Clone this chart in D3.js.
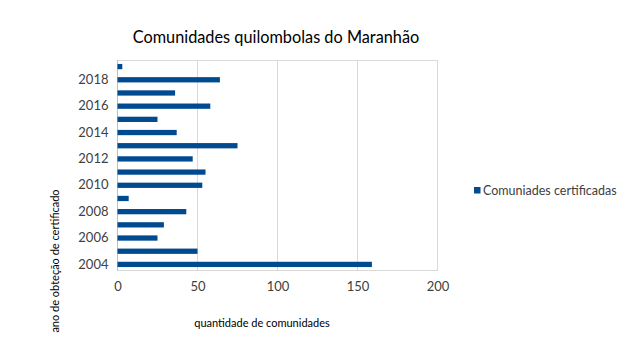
<!DOCTYPE html>
<html><head><meta charset="utf-8">
<script src="https://cdn.jsdelivr.net/npm/d3@7"></script>
<style>body{margin:0;background:#fff;} text{font-family:Lato,"Open Sans",sans-serif;}</style>
</head><body>
<svg id="chart" width="631" height="344"></svg>
<script>
const years = [2004,2005,2006,2007,2008,2009,2010,2011,2012,2013,2014,2015,2016,2017,2018,2019];
const values = [159,50,25,29,43,7,53,55,47,75,37,25,58,36,64,3];
const xTicks = [0,50,100,150,200];
const title = "Comunidades quilombolas do Maranhão";
const seriesName = "Comuniades certificadas";
const xTitle = "quantidade de comunidades";
const yTitle = "ano de obteção de certificado";

(function(){
const svg = d3.select("#chart");
const pLeft = 117.5, pRight = 437.5, pTop = 60, pBottom = 271;
const x = d3.scaleLinear().domain([0,200]).range([pLeft,pRight]);
const y = d3.scaleBand().domain(years.slice().reverse()).range([pTop,pBottom]).paddingInner(0.6).paddingOuter(0.3);

// gridlines
svg.append("g").selectAll("line").data(xTicks.slice(1)).join("line")
  .attr("x1",d=>x(d)).attr("x2",d=>x(d)).attr("y1",pTop).attr("y2",pBottom)
  .attr("stroke","#d9d9d9").attr("stroke-width",1);
svg.append("line").attr("x1",pLeft).attr("x2",pRight).attr("y1",pTop+0.5).attr("y2",pTop+0.5).attr("stroke","#d9d9d9");
svg.append("line").attr("x1",pLeft).attr("x2",pRight).attr("y1",pBottom-0.5).attr("y2",pBottom-0.5).attr("stroke","#d9d9d9");
svg.append("line").attr("x1",pLeft).attr("x2",pLeft).attr("y1",pTop).attr("y2",pBottom).attr("stroke","#bfbfbf");

// bars
svg.append("g").selectAll("rect").data(years).join("rect")
  .attr("x",x(0)).attr("y",(d)=>y(d)).attr("height",y.bandwidth())
  .attr("width",(d,i)=>x(values[i])-x(0)).attr("fill","#004a8f");

// y tick labels (every other year)
const yAxis = d3.axisLeft(y).tickValues(years.filter(d=>d%2===0)).tickSize(0).tickPadding(9);
const gy = svg.append("g").attr("transform",`translate(${pLeft},0)`).call(yAxis);
gy.select(".domain").remove();
gy.selectAll("text").attr("font-size","13px").attr("fill","#404040").attr("font-family","Lato, 'Open Sans', sans-serif");

// x tick labels
const xAxis = d3.axisBottom(x).tickValues(xTicks).tickSize(0).tickPadding(11);
const gx = svg.append("g").attr("transform",`translate(0,${pBottom})`).call(xAxis);
gx.select(".domain").remove();
gx.selectAll("text").attr("font-size","13px").attr("fill","#404040").attr("font-family","Lato, 'Open Sans', sans-serif");

// title
svg.append("text").attr("x",276).attr("y",43).attr("text-anchor","middle")
  .attr("font-size","16.3px").attr("fill","#000").text(title);

// axis titles
svg.append("text").attr("x",262).attr("y",327).attr("text-anchor","middle")
  .attr("font-size","11px").attr("fill","#000").text(xTitle);
svg.append("text").attr("transform","translate(59,261) rotate(-90)").attr("text-anchor","middle")
  .attr("font-size","11px").attr("fill","#000").text(yTitle);

// legend
svg.append("rect").attr("x",474).attr("y",187).attr("width",6.5).attr("height",6.5).attr("fill","#004a8f");
svg.append("text").attr("x",483).attr("y",195).attr("font-size","12.5px").attr("fill","#404040").text(seriesName);
})();
</script>
</body></html>
